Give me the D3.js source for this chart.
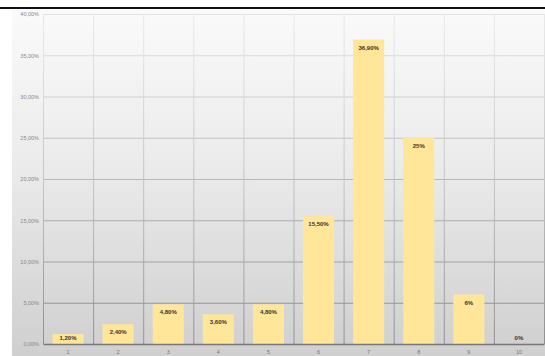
<!DOCTYPE html>
<html>
<head>
<meta charset="utf-8">
<script src="https://cdn.jsdelivr.net/npm/d3@7"></script>
<style>
  body { margin: 0; background: #fff; }
  svg { display: block; }
</style>
</head>
<body>
<div id="chart"></div>
<script>
// chart data
var categories = ["1", "2", "3", "4", "5", "6", "7", "8", "9", "10"];
var values = [1.2, 2.4, 4.8, 3.6, 4.8, 15.5, 36.9, 25, 6, 0];
var labels = ["1,20%", "2,40%", "4,80%", "3,60%", "4,80%", "15,50%", "36,90%", "25%", "6%", "0%"];
var yTicks = [0, 5, 10, 15, 20, 25, 30, 35, 40];

var W = 545, H = 356;
var margin = {top: 14, right: 1, bottom: 12, left: 43},
    width = W - margin.left - margin.right,
    height = H - margin.top - margin.bottom;

var svg = d3.select("#chart").append("svg")
    .attr("width", W)
    .attr("height", H);

var defs = svg.append("defs");
var bg = defs.append("linearGradient")
    .attr("id", "bg")
    .attr("x1", 0).attr("y1", 0).attr("x2", 0).attr("y2", 1);
bg.append("stop").attr("offset", "0%").attr("stop-color", "#fafafa");
bg.append("stop").attr("offset", "45%").attr("stop-color", "#ebebeb");
bg.append("stop").attr("offset", "100%").attr("stop-color", "#cfcfcf");

// gridline colour fades from light at the top to darker at the bottom
var gg = defs.append("linearGradient")
    .attr("id", "grid")
    .attr("gradientUnits", "userSpaceOnUse")
    .attr("x1", 0).attr("y1", margin.top).attr("x2", 0).attr("y2", margin.top + height);
gg.append("stop").attr("offset", "0%").attr("stop-color", "#e8e8e8");
gg.append("stop").attr("offset", "50%").attr("stop-color", "#c0c0c0");
gg.append("stop").attr("offset", "100%").attr("stop-color", "#8c8c8c");

// background panel
svg.append("rect")
    .attr("x", 12).attr("y", 10)
    .attr("width", W - 12).attr("height", H - 10)
    .attr("fill", "url(#bg)");

// top border line
svg.append("line")
    .attr("x1", 0).attr("x2", W)
    .attr("y1", 8).attr("y2", 8)
    .attr("stroke", "#111")
    .attr("stroke-width", 2);

var g = svg.append("g")
    .attr("transform", "translate(" + margin.left + "," + margin.top + ")");

var x = d3.scaleBand().domain(categories).range([0, width]).paddingInner(0.38).paddingOuter(0.19);
var xs = d3.scaleBand().domain(categories).range([0, width]);
var y = d3.scaleLinear().domain([0, 40]).range([height, 0]);

var fmt = function (d) { return d3.format(".2f")(d).replace(".", ",") + "%"; };

// horizontal gridlines
g.append("g")
    .selectAll("line")
    .data(yTicks.slice(1))
    .enter().append("line")
    .attr("x1", 0).attr("x2", width)
    .attr("y1", function (d) { return y(d) + 0.5; })
    .attr("y2", function (d) { return y(d) + 0.5; })
    .attr("stroke", function (d) {
        var t = d / 40;
        return d3.interpolateRgb("#8c8c8c", "#e4e4e4")(t);
    })
    .attr("stroke-width", 1);

// vertical gridlines
g.append("g")
    .selectAll("line")
    .data(categories.concat(["end"]))
    .enter().append("line")
    .attr("x1", function (d, i) { return i * xs.bandwidth() + 0.5; })
    .attr("x2", function (d, i) { return i * xs.bandwidth() + 0.5; })
    .attr("y1", 0).attr("y2", height)
    .attr("stroke", "url(#grid)")
    .attr("stroke-width", 1);

// bars
g.append("g")
    .selectAll("rect")
    .data(values)
    .enter().append("rect")
    .attr("x", function (d, i) { return x(categories[i]); })
    .attr("y", function (d) { return y(d); })
    .attr("width", x.bandwidth())
    .attr("height", function (d) { return height - y(d); })
    .attr("fill", "#ffe699");

// data labels
g.append("g")
    .selectAll("text")
    .data(values)
    .enter().append("text")
    .attr("x", function (d, i) { return x(categories[i]) + x.bandwidth() / 2; })
    .attr("y", function (d) { return Math.min(y(d) + 10, height - 4); })
    .attr("text-anchor", "middle")
    .attr("font-family", "Liberation Sans, Arial, sans-serif")
    .attr("font-size", "6px")
    .attr("font-weight", "bold")
    .attr("fill", "#333")
    .text(function (d, i) { return labels[i]; });

// x axis
var xAxis = g.append("g")
    .attr("transform", "translate(0," + height + ")")
    .call(d3.axisBottom(xs).tickSize(0).tickPadding(6));
xAxis.select(".domain").attr("stroke", "#777").attr("stroke-width", 1.5);
xAxis.selectAll("text")
    .attr("font-family", "Liberation Sans, Arial, sans-serif")
    .attr("font-size", "5.5px")
    .attr("fill", "#777");

// y axis labels
var yAxis = g.append("g")
    .call(d3.axisLeft(y).tickValues(yTicks).tickFormat(fmt).tickSize(0).tickPadding(4));
yAxis.select(".domain").remove();
yAxis.selectAll("text")
    .attr("font-family", "Liberation Sans, Arial, sans-serif")
    .attr("font-size", "5.5px")
    .attr("fill", "#888");
</script>
</body>
</html>
